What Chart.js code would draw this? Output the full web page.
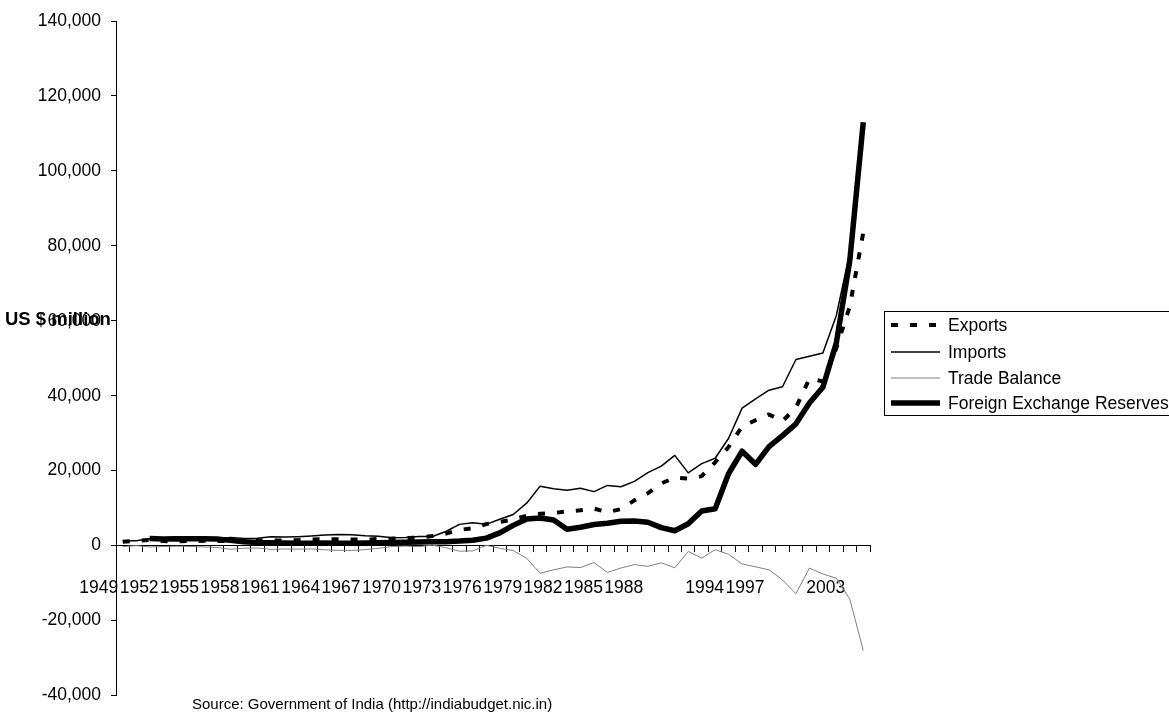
<!DOCTYPE html>
<html>
<head>
<meta charset="utf-8">
<title>India: Exports, Imports, Trade Balance and Foreign Exchange Reserves</title>
<script src="https://cdn.jsdelivr.net/npm/chart.js@4/dist/chart.umd.min.js"></script>
<style>
  html, body { margin: 0; padding: 0; background: #fff; }
  #wrap { width: 1169px; height: 716px; position: relative; }
</style>
</head>
<body>
<div id="wrap"><canvas id="chart" width="1169" height="716"></canvas></div>
<script>
// Years (fiscal years starting 1949)
const years = [
  '1949','1950','1951','1952','1953','1954','1955','1956','1957','1958',
  '1959','1960','1961','1962','1963','1964','1965','1966','1967','1968',
  '1969','1970','1971','1972','1973','1974','1975','1976','1977','1978',
  '1979','1980','1981','1982','1983','1984','1985','1986','1987','1988',
  '1989','1990','1991','1992','1993','1994','1995','1996','1997','1998',
  '1999','2000','2001','2002','2003','2004'
];

// only these year labels are printed on the axis
const tickLabels = ['1949','1952','1955','1958','1961','1964','1967','1970','1973',
  '1976','1979','1982','1985','1988','1994','1997','2003'];

const exportsVals = [
  1016, 1269, 1490, 1212, 1114, 1233, 1276, 1259, 1171, 1219,
  1343, 1346, 1381, 1437, 1659, 1701, 1693, 1628, 1586, 1788,
  1866, 2031, 2153, 2550, 3209, 4174, 4665, 5753, 6316, 6978,
  7947, 8486, 8704, 9107, 9449, 9878, 8904, 9745, 12089, 13970,
  16612, 18143, 17865, 18537, 22238, 26330, 31797, 33470, 35006, 33218,
  36822, 44560, 43827, 52719, 63843, 83536
];

const importsVals = [
  1292, 1273, 1852, 1472, 1279, 1456, 1620, 1750, 2160, 1901,
  1995, 2353, 2281, 2381, 2559, 2813, 2944, 2923, 2656, 2513,
  2089, 2162, 2443, 2415, 3759, 5666, 6084, 5677, 7031, 8300,
  11321, 15869, 15174, 14787, 15311, 14412, 16067, 15727, 17156, 19497,
  21219, 24075, 19411, 21882, 23306, 28654, 36678, 39132, 41484, 42389,
  49671, 50536, 51413, 61412, 78149, 111517
];

const tradeBalance = [
  -276, -4, -362, -260, -165, -223, -344, -491, -989, -682,
  -652, -1007, -900, -944, -900, -1112, -1251, -1295, -1070, -725,
  -223, -131, -290, 135, -550, -1492, -1419, 76, -715, -1322,
  -3374, -7383, -6470, -5680, -5862, -4534, -7163, -5982, -5067, -5527,
  -4607, -5932, -1546, -3345, -1068, -2324, -4881, -5662, -6478, -9171,
  -12849, -5976, -7586, -8693, -14307, -27981
];

const reserves = [
  null, null, 1900, 1750, 1800, 1800, 1850, 1750, 1400, 1000,
  800, 750, 700, 650, 650, 700, 650, 650, 700, 750,
  850, 900, 950, 1000, 1050, 1200, 1450, 2000, 3400, 5400,
  7100, 7360, 6820, 4390, 4896, 5649, 5952, 6520, 6573, 6223,
  4802, 3962, 5834, 9220, 9832, 19254, 25186, 21687, 26423, 29367,
  32490, 38036, 42281, 54106, 76100, 112959
];

const fontFamily = 'Arial, "Liberation Sans", Helvetica, sans-serif';

// legend box + free texts, drawn like the spreadsheet original
const extrasPlugin = {
  id: 'extras',
  afterDraw(chart) {
    const ctx = chart.ctx;
    ctx.save();

    // axis title, horizontal
    ctx.fillStyle = '#000';
    ctx.font = 'bold 18.5px ' + fontFamily;
    ctx.textBaseline = 'middle';
    ctx.textAlign = 'left';
    ctx.fillText('US $ million', 5, 320);

    // source line
    ctx.font = '15px ' + fontFamily;
    ctx.fillText('Source: Government of India (http://indiabudget.nic.in)', 192, 705);

    // legend
    ctx.fillStyle = '#fff';
    ctx.fillRect(884.5, 311.5, 300, 104);
    ctx.strokeStyle = '#000';
    ctx.lineWidth = 1;
    ctx.setLineDash([]);
    ctx.strokeRect(884.5, 311.5, 300, 104);

    const rows = [325, 352, 378, 403];
    chart.data.datasets.forEach((ds, i) => {
      const y = rows[i];
      ctx.beginPath();
      ctx.strokeStyle = ds.borderColor;
      ctx.lineWidth = ds.borderWidth;
      ctx.setLineDash(ds.borderDash || []);
      ctx.lineCap = 'butt';
      ctx.moveTo(891, y);
      ctx.lineTo(940, y);
      ctx.stroke();
      ctx.setLineDash([]);
      ctx.fillStyle = '#000';
      ctx.font = '17.5px ' + fontFamily;
      ctx.textBaseline = 'middle';
      ctx.fillText(ds.label, 948, y + 1);
    });
    ctx.restore();
  }
};

new Chart(document.getElementById('chart'), {
  type: 'line',
  data: {
    labels: years,
    datasets: [
      { label: 'Exports', data: exportsVals, borderColor: '#000', borderWidth: 4,
        borderDash: [7, 12], order: 3 },
      { label: 'Imports', data: importsVals, borderColor: '#000', borderWidth: 1.5, order: 2 },
      { label: 'Trade Balance', data: tradeBalance, borderColor: '#808080', borderWidth: 1, order: 1 },
      { label: 'Foreign Exchange Reserves', data: reserves, borderColor: '#000', borderWidth: 5.5, order: 0 }
    ]
  },
  options: {
    responsive: false,
    devicePixelRatio: 1,
    animation: false,
    events: [],
    layout: { padding: { left: 0, top: 21, right: 299, bottom: 11 } },
    elements: {
      point: { radius: 0 },
      line: { tension: 0, fill: false, borderJoinStyle: 'round' }
    },
    plugins: {
      legend: { display: false },
      tooltip: { enabled: false }
    },
    scales: {
      x: {
        type: 'category',
        offset: true,
        position: { y: 0 },
        grid: { offset: true, drawOnChartArea: false, drawTicks: true, tickLength: 6,
                tickColor: '#000', color: '#000' },
        border: { display: true, color: '#000', width: 1 },
        ticks: {
          autoSkip: false, maxRotation: 0, minRotation: 0,
          labelOffset: -24, padding: 26,
          color: '#000', font: { family: fontFamily, size: 17.5 },
          callback: function (value, index) {
            const y = years[index];
            return tickLabels.includes(y) ? y : '';
          }
        }
      },
      y: {
        min: -40000, max: 140000,
        grid: { drawOnChartArea: false, drawTicks: true, tickLength: 5,
                tickColor: '#000', color: '#000' },
        border: { display: true, color: '#000', width: 1 },
        ticks: {
          stepSize: 20000, padding: 10, color: '#000',
          font: { family: fontFamily, size: 17.5 },
          callback: v => v.toLocaleString('en-US')
        },
        afterFit: scale => { scale.width = 116; }
      }
    }
  },
  plugins: [extrasPlugin]
});
</script>
</body>
</html>
